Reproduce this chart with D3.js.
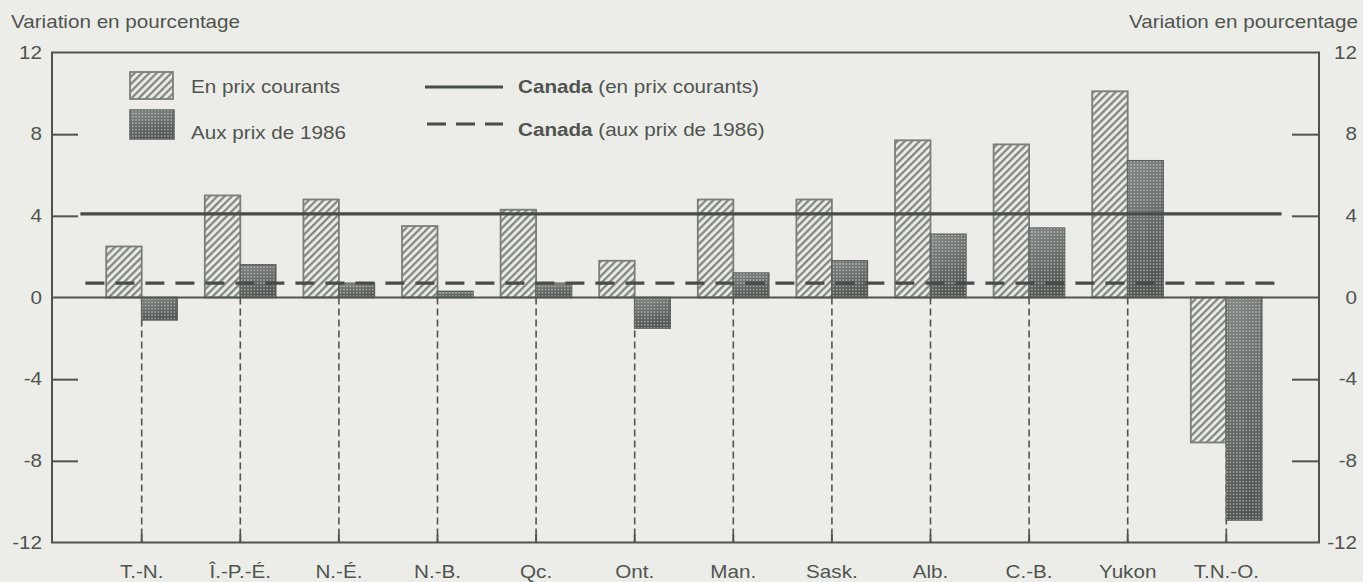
<!DOCTYPE html>
<html><head><meta charset="utf-8">
<script src="https://cdn.jsdelivr.net/npm/d3@7"></script>
<style>
html,body{margin:0;padding:0;background:#ecede9;}
svg{display:block;}
text{font-family:"Liberation Sans",Arial,sans-serif;fill:#4f544f;}
</style></head>
<body>
<script>
const categories = ["T.-N.","Î.-P.-É.","N.-É.","N.-B.","Qc.","Ont.","Man.","Sask.","Alb.","C.-B.","Yukon","T.N.-O."];
const currentPrices = [2.5, 5.0, 4.8, 3.5, 4.3, 1.8, 4.8, 4.8, 7.7, 7.5, 10.1, -7.1];
const constantPrices = [-1.1, 1.6, 0.7, 0.3, 0.7, -1.5, 1.2, 1.8, 3.1, 3.4, 6.7, -10.9];
const canadaCurrent = [4.1];
const canadaConstant = [0.7];
const yTicks = [-12, -8, -4, 0, 4, 8, 12];
const yTickLabels = ["-12", "-8", "-4", "0", "4", "8", "12"];
const axisTitle = "Variation en pourcentage";
const legendBars = ["En prix courants", "Aux prix de 1986"];
const legendLines = [["Canada", " (en prix courants)"], ["Canada", " (aux prix de 1986)"]];

const W = 1363, H = 582;
const frame = {left: 52, right: 1319, top: 52.5, bottom: 542.5};
const ink = "#4f544f";
const FS = 17.5, SX = 1.18;

const svg = d3.select("body").append("svg").attr("width", W).attr("height", H);
svg.append("rect").attr("width", W).attr("height", H).attr("fill", "#ecede9");

const defs = svg.append("defs");
const hatch = defs.append("pattern").attr("id", "hatch").attr("patternUnits", "userSpaceOnUse")
  .attr("width", 5.2).attr("height", 5.2).attr("patternTransform", "rotate(45)");
hatch.append("rect").attr("width", 5.2).attr("height", 5.2).attr("fill", "#e9ebe6");
hatch.append("line").attr("x1", 1.2).attr("x2", 1.2).attr("y1", 0).attr("y2", 5.2)
  .attr("stroke", "#7b807b").attr("stroke-width", 2.1);

const grad = defs.append("linearGradient").attr("id", "shade").attr("x1", 0).attr("y1", 0).attr("x2", 0.3).attr("y2", 1);
grad.append("stop").attr("offset", "0%").attr("stop-color", "#838783");
grad.append("stop").attr("offset", "100%").attr("stop-color", "#505450");
const dots = defs.append("pattern").attr("id", "dots").attr("patternUnits", "userSpaceOnUse")
  .attr("width", 3.2).attr("height", 3.2);
dots.append("circle").attr("cx", 1.6).attr("cy", 1.6).attr("r", 0.75).attr("fill", "#dfe2dd").attr("opacity", 0.75);

const x = d3.scaleBand().domain(categories).range([92.4, 1275.6]).paddingInner(0).paddingOuter(0);
const y = d3.scaleLinear().domain([-12, 12]).range([frame.bottom, frame.top]);
const bw = x.step() * 0.36;
const cx = c => x(c) + x.bandwidth() / 2;

function txt(g, s, tx, ty, anchor, weight) {
  return g.append("text").attr("transform", `translate(${tx},${ty}) scale(${SX},1)`)
    .attr("text-anchor", anchor || "start").attr("font-size", FS).attr("font-weight", weight || "normal")
    .attr("dy", "0.35em").text(s);
}

// vertical dashed guides
svg.append("g").selectAll("line").data(categories).join("line")
  .attr("x1", cx).attr("x2", cx).attr("y1", y(0)).attr("y2", y(-12))
  .attr("stroke", ink).attr("stroke-width", 1.6).attr("stroke-dasharray", "7,4");

// current price bars
svg.append("g").selectAll("rect").data(categories).join("rect")
  .attr("x", c => cx(c) - bw).attr("width", bw)
  .attr("y", (c, i) => y(Math.max(0, currentPrices[i])))
  .attr("height", (c, i) => Math.abs(y(currentPrices[i]) - y(0)))
  .attr("fill", "url(#hatch)").attr("stroke", "#7a7e7a").attr("stroke-width", 1.8);

// constant price bars
const cb = svg.append("g").selectAll("g").data(categories).join("g");
cb.append("rect")
  .attr("x", c => cx(c)).attr("width", bw)
  .attr("y", (c, i) => y(Math.max(0, constantPrices[i])))
  .attr("height", (c, i) => Math.abs(y(constantPrices[i]) - y(0)))
  .attr("fill", "url(#shade)").attr("stroke", "#595d59").attr("stroke-width", 1.5);
cb.append("rect")
  .attr("x", c => cx(c)).attr("width", bw)
  .attr("y", (c, i) => y(Math.max(0, constantPrices[i])))
  .attr("height", (c, i) => Math.abs(y(constantPrices[i]) - y(0)))
  .attr("fill", "url(#dots)");

// zero line
svg.append("line").attr("x1", frame.left).attr("x2", frame.right).attr("y1", y(0)).attr("y2", y(0))
  .attr("stroke", ink).attr("stroke-width", 2);

// Canada lines
svg.append("g").selectAll("line").data(canadaCurrent).join("line")
  .attr("x1", x.range()[0] - 12).attr("x2", x.range()[1] + 6)
  .attr("y1", d => y(d)).attr("y2", d => y(d))
  .attr("stroke", "#484c48").attr("stroke-width", 3.2);
svg.append("g").selectAll("line").data(canadaConstant).join("line")
  .attr("x1", x.range()[0] - 7).attr("x2", x.range()[1] + 8)
  .attr("y1", d => y(d)).attr("y2", d => y(d))
  .attr("stroke", "#484c48").attr("stroke-width", 3.2).attr("stroke-dasharray", "19,11");

// frame
svg.append("rect").attr("x", frame.left).attr("y", frame.top)
  .attr("width", frame.right - frame.left).attr("height", frame.bottom - frame.top)
  .attr("fill", "none").attr("stroke", ink).attr("stroke-width", 2);

// axes
const fmt = d => yTickLabels[yTicks.indexOf(d)];
const yl = svg.append("g").attr("transform", `translate(${frame.left},0)`)
  .call(d3.axisLeft(y).tickValues(yTicks).tickSizeInner(-26).tickSizeOuter(0).tickPadding(10).tickFormat(fmt));
const yr = svg.append("g").attr("transform", `translate(${frame.right},0)`)
  .call(d3.axisRight(y).tickValues(yTicks).tickSizeInner(-27).tickSizeOuter(0).tickPadding(38).tickFormat(fmt));
const xb = svg.append("g").attr("transform", `translate(0,${frame.bottom})`)
  .call(d3.axisBottom(x).tickSizeInner(-8).tickSizeOuter(0).tickPadding(23));
[yl, yr, xb].forEach(g => {
  g.select(".domain").remove();
  g.selectAll(".tick line").attr("stroke", ink).attr("stroke-width", 2);
  g.selectAll(".tick text").attr("font-size", FS).attr("fill", ink)
    .attr("font-family", '"Liberation Sans",Arial,sans-serif');
});
yl.selectAll(".tick text").each(function() {
  const t = d3.select(this); const tx = +t.attr("x");
  t.attr("x", 0).attr("transform", `translate(${tx},0) scale(${SX},1)`);
});
yr.selectAll(".tick text").attr("text-anchor", "end").each(function() {
  const t = d3.select(this); const tx = +t.attr("x");
  t.attr("x", 0).attr("transform", `translate(${tx},0) scale(${SX},1)`);
});
xb.selectAll(".tick text").each(function() {
  const t = d3.select(this); const ty = +t.attr("y");
  t.attr("y", 0).attr("transform", `translate(0,${ty}) scale(${SX},1)`);
});
yl.selectAll(".tick").filter(d => d === 12 || d === -12 || d === 0).select("line").remove();
yr.selectAll(".tick").filter(d => d === 12 || d === -12 || d === 0).select("line").remove();

// titles
txt(svg, axisTitle, 11, 22, "start");
txt(svg, axisTitle, 1358, 22, "end");

// legend: bars
const lg = svg.append("g");
lg.append("rect").attr("x", 130).attr("y", 72).attr("width", 43).attr("height", 27)
  .attr("fill", "url(#hatch)").attr("stroke", "#7a7e7a").attr("stroke-width", 1.8);
lg.append("rect").attr("x", 130).attr("y", 110).attr("width", 44).attr("height", 29)
  .attr("fill", "url(#shade)").attr("stroke", "#595d59").attr("stroke-width", 1.5);
lg.append("rect").attr("x", 130).attr("y", 110).attr("width", 44).attr("height", 29).attr("fill", "url(#dots)");
legendBars.forEach((s, i) => txt(lg, s, 191, 87 + i * 46, "start"));

// legend: lines
lg.append("line").attr("x1", 425).attr("x2", 503).attr("y1", 87).attr("y2", 87)
  .attr("stroke", "#484c48").attr("stroke-width", 3.2);
lg.append("line").attr("x1", 427).attr("x2", 503).attr("y1", 124).attr("y2", 124)
  .attr("stroke", "#484c48").attr("stroke-width", 3.2).attr("stroke-dasharray", "19,10");
legendLines.forEach((p, i) => {
  const t = lg.append("text").attr("transform", `translate(518,${87 + i * 43}) scale(${SX},1)`)
    .attr("font-size", FS).attr("dy", "0.35em");
  t.append("tspan").attr("font-weight", "bold").text(p[0]);
  t.append("tspan").text(p[1]);
});
</script>
</body></html>
